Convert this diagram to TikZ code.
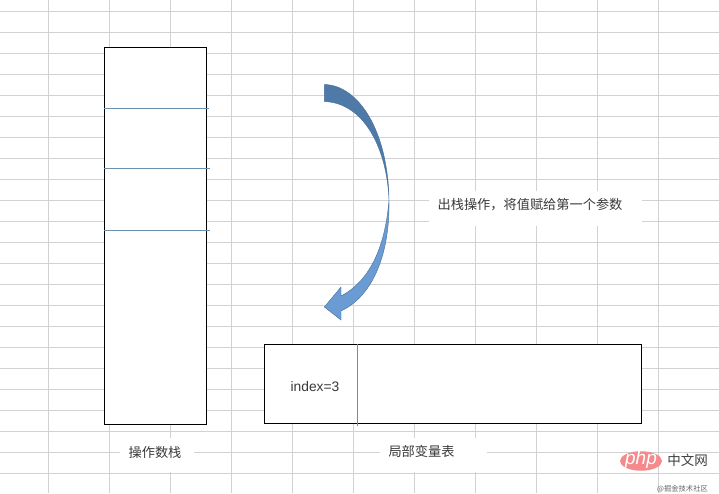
\documentclass[tikz,border=0pt]{standalone}
\usepackage{fontspec}
\setmainfont{Liberation Sans}
\newfontfamily\cjk{Noto Sans CJK SC}
\usetikzlibrary{shapes.geometric}
\definecolor{gridc}{HTML}{D2D2D2}
\definecolor{divc}{HTML}{6A90B0}
\definecolor{txtc}{HTML}{3A3A3A}
\definecolor{arrowdark}{HTML}{4F7AA8}
\definecolor{arrowlight}{HTML}{6A9BD2}
\definecolor{arrowedge}{HTML}{46709C}
\definecolor{phppink}{HTML}{F58A8C}
\tikzset{
  gridline/.style={gridc,line width=1.1pt},
  boxc/.style={draw=black,fill=white,line width=1pt,inner sep=0pt},
  divider/.style={divc,line width=0.8pt},
  patch/.style={fill=white,draw=none},
  cjklabel/.style={font=\cjk\fontsize{13.2}{13}\selectfont,text=txtc,inner sep=0pt},
}
\begin{document}
\begin{tikzpicture}[x=1pt,y=-1pt]
\useasboundingbox (0,0) rectangle (719,493);
\fill[white] (0,0) rectangle (719,493);
\foreach \i in {0,...,10}{\draw[gridline] ({48.4+61*\i},0) -- ({48.4+61*\i},493);}
\foreach \j in {0,...,22}{\draw[gridline] (0,{11.4+21*\j}) -- (719,{11.4+21*\j});}
\fill[patch] (429,191) rectangle (642,226);
\fill[patch] (120,438) rectangle (194,472);
\fill[patch] (380,438) rectangle (487,472);
\node[boxc,minimum width=102pt,minimum height=377pt,anchor=north west] (stack) at (104,47) {};
\node[boxc,minimum width=376.5pt,minimum height=79pt,anchor=north west] (locals) at (264,344) {};
\coordinate (d1a) at (104,108); \coordinate (d1b) at (209,108);
\coordinate (d2a) at (104,168.5); \coordinate (d2b) at (210,168.5);
\coordinate (d3a) at (104,230); \coordinate (d3b) at (210,230);
\coordinate (d4a) at (357,344); \coordinate (d4b) at (357,426);
\draw[divider] (d1a) -- (d1b);
\draw[divider] (d2a) -- (d2b);
\draw[divider] (d3a) -- (d3b);
\draw[divider] (d4a) -- (d4b);
\node[font=\fontsize{13.8}{14}\selectfont,text=txtc,inner sep=0pt] (idx) at (315,387) {index=3};
\node[cjklabel] (lblstack) at (155,452) {操作数栈};
\node[cjklabel] (lbllocals) at (421.5,451) {局部变量表};
\node[cjklabel] (lblop) at (530,205) {出栈操作，将值赋给第一个参数};
% curved arrow: upper half
\fill[arrowdark,draw=arrowedge,line width=0.4pt]
  (324.3,84.5) .. controls (358,85) and (388,130) .. (389,200)
  .. controls (387,150) and (365,103) .. (324.3,101.5) -- cycle;
% lower half with head
\fill[arrowlight,draw=arrowedge,line width=0.4pt]
  (389,200) .. controls (390,250) and (375,295) .. (341,311)
  -- (341,320) -- (324.3,307) -- (341,287) -- (341,296)
  .. controls (368,282) and (385,250) .. (389,200) -- cycle;
% watermark
\node[ellipse,fill=phppink,minimum width=42pt,minimum height=19.5pt,inner sep=0pt] (wmlogo) at (641,461) {};
\node[font=\fontsize{19}{19}\itshape\selectfont,text=white,inner sep=0pt] (wmphp) at (641,459.5) {php};
\node[font=\cjk\fontsize{13.5}{14}\selectfont,text=black!75,inner sep=0pt] (wmcn) at (687.5,460) {中文网};
\node[font=\cjk\fontsize{7.3}{8}\selectfont,text=black!60,inner sep=0pt] (wmsub) at (682.5,489) {@掘金技术社区};
\end{tikzpicture}
\end{document}
